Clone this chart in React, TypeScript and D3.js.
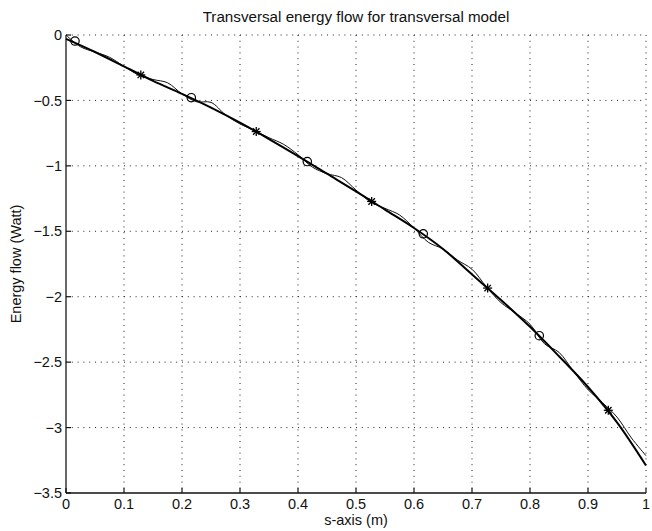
import React from "react";
import * as d3 from "d3";

const titleText = "Transversal energy flow for transversal model";
const xLabelText = "s-axis (m)";
const yLabelText = "Energy flow (Watt)";

const xTicks = [0, 0.1, 0.2, 0.3, 0.4, 0.5, 0.6, 0.7, 0.8, 0.9, 1];
const yTicks = [0, -0.5, -1, -1.5, -2, -2.5, -3, -3.5];

// smooth (thick) curve
const smoothX = [0, 0.05, 0.1, 0.15, 0.2, 0.25, 0.3, 0.35, 0.4, 0.45, 0.5, 0.55, 0.6, 0.65, 0.7, 0.75, 0.8, 0.85, 0.9, 0.95, 1.0];
const smoothY = [-0.03, -0.13, -0.24, -0.35, -0.45, -0.555, -0.67, -0.795, -0.925, -1.06, -1.195, -1.335, -1.475, -1.635, -1.83, -2.025, -2.23, -2.455, -2.69, -2.96, -3.29];

// wavy (thin) curve
const wavyX = [0, 0.025, 0.05, 0.075, 0.1, 0.125, 0.15, 0.175, 0.2, 0.225, 0.25, 0.275, 0.3, 0.325, 0.35, 0.375, 0.4, 0.425, 0.45, 0.475, 0.5, 0.525, 0.55, 0.575, 0.6, 0.625, 0.65, 0.675, 0.7, 0.725, 0.75, 0.775, 0.8, 0.825, 0.85, 0.875, 0.9, 0.925, 0.95, 0.975, 1.0];
const wavyY = [0.0, -0.09, -0.13, -0.17, -0.24, -0.305, -0.34, -0.365, -0.45, -0.51, -0.515, -0.61, -0.68, -0.73, -0.785, -0.835, -0.915, -1.01, -1.06, -1.09, -1.185, -1.275, -1.325, -1.375, -1.475, -1.585, -1.635, -1.72, -1.79, -1.925, -2.045, -2.125, -2.21, -2.36, -2.425, -2.57, -2.71, -2.81, -2.92, -3.08, -3.215];

// markers
const circleX = [0.0155, 0.216, 0.416, 0.616, 0.816];
const circleY = [-0.046, -0.479, -0.967, -1.519, -2.298];
const starX = [0.129, 0.328, 0.527, 0.727, 0.935];
const starY = [-0.305, -0.738, -1.272, -1.934, -2.868];

const W = 652;
const H = 531;
const left = 66;
const right = 646;
const top = 35;
const bottom = 493;

const fmt = (v: number) => {
  const s = String(v);
  return s.replace("-", "\u2212");
};

export default function App() {
  const x = d3.scaleLinear().domain([0, 1]).range([left, right]);
  const y = d3.scaleLinear().domain([-3.5, 0]).range([bottom, top]);

  const smooth = d3
    .line<number>()
    .x((_, i) => x(smoothX[i]))
    .y((d) => y(d))
    .curve(d3.curveCatmullRom)(smoothY);
  const wavy = d3
    .line<number>()
    .x((_, i) => x(wavyX[i]))
    .y((d) => y(d))
    .curve(d3.curveCatmullRom)(wavyY);

  const font = "'Liberation Sans', Arial, Helvetica, sans-serif";
  const fs = 14.5;
  const tickLen = 5;

  return (
    <svg
      width={W}
      height={H}
      style={{ position: "absolute", left: 0, top: 0, background: "#fff" }}
      fontFamily={font}
    >
      <rect x={0} y={0} width={W} height={H} fill="#fff" />
      {/* grid */}
      {xTicks.filter((t) => t > 0).map((t) => (
        <line key={"gx" + t} x1={x(t)} x2={x(t)} y1={top} y2={bottom} stroke="#222" strokeWidth={1} strokeDasharray="1,4.8" />
      ))}
      {yTicks.filter((t) => t > -3.5).map((t) => (
        <line key={"gy" + t} x1={left} x2={right} y1={y(t)} y2={y(t)} stroke="#222" strokeWidth={1} strokeDasharray="1,4.8" />
      ))}
      {/* axes */}
      <line x1={left} x2={left} y1={top} y2={bottom} stroke="#444" strokeWidth={1.6} />
      <line x1={left} x2={right} y1={bottom} y2={bottom} stroke="#111" strokeWidth={1.6} />
      {xTicks.map((t) => (
        <g key={"xt" + t}>
          <line x1={x(t)} x2={x(t)} y1={bottom} y2={bottom - tickLen} stroke="#111" strokeWidth={1.2} />
          <text x={x(t)} y={bottom + 16} textAnchor="middle" fontSize={fs} fill="#111">
            {fmt(t)}
          </text>
        </g>
      ))}
      {yTicks.map((t) => (
        <g key={"yt" + t}>
          <line x1={left} x2={left + tickLen} y1={y(t)} y2={y(t)} stroke="#111" strokeWidth={1.2} />
          <text x={left - 4} y={y(t)} dy="0.35em" textAnchor="end" fontSize={fs} fill="#111">
            {fmt(t)}
          </text>
        </g>
      ))}
      {/* curves */}
      <path d={wavy || ""} fill="none" stroke="#111" strokeWidth={1} />
      <path d={smooth || ""} fill="none" stroke="#000" strokeWidth={2} />
      {/* markers */}
      {circleX.map((cx, i) => (
        <circle key={"c" + i} cx={x(cx)} cy={y(circleY[i])} r={4.2} fill="none" stroke="#000" strokeWidth={1.2} />
      ))}
      {starX.map((sx, i) => {
        const px = x(sx);
        const py = y(starY[i]);
        const r = 4.5;
        const d = r * 0.72;
        return (
          <g key={"s" + i} stroke="#000" strokeWidth={1.3}>
            <line x1={px - r} x2={px + r} y1={py} y2={py} />
            <line x1={px} x2={px} y1={py - r} y2={py + r} />
            <line x1={px - d} x2={px + d} y1={py - d} y2={py + d} />
            <line x1={px - d} x2={px + d} y1={py + d} y2={py - d} />
          </g>
        );
      })}
      {/* labels */}
      <text x={(left + right) / 2} y={22} textAnchor="middle" fontSize={15.2} fill="#111">
        {titleText}
      </text>
      <text x={(left + right) / 2} y={bottom + 32} textAnchor="middle" fontSize={fs} fill="#111">
        {xLabelText}
      </text>
      <text
        transform={`translate(${21},${(top + bottom) / 2}) rotate(-90)`}
        textAnchor="middle"
        fontSize={fs}
        fill="#111"
      >
        {yLabelText}
      </text>
    </svg>
  );
}
